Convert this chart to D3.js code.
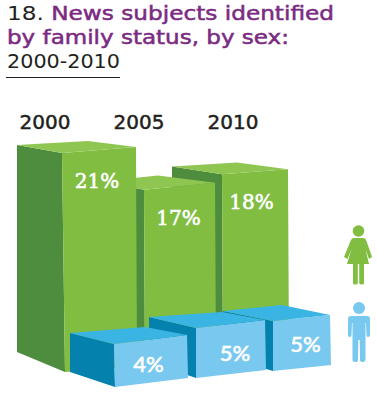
<!DOCTYPE html>
<html>
<head>
<meta charset="utf-8">
<script src="https://d3js.org/d3.v7.min.js"></script>
<style>
html, body { margin: 0; padding: 0; background: #fff; }
</style>
</head>
<body>
<script>
var years = ["2000", "2005", "2010"];
var women = [21, 17, 18];
var men = [4, 5, 5];

var svg = d3.select("body")
    .append("svg")
    .attr("width", 377)
    .attr("height", 398)
    .style("display", "block");

// height of a bar in px at the front corner
var h = d3.scaleLinear().domain([0, 21]).range([0, 219]);
var yearX = d3.scalePoint().domain(years).range([45, 233]);

// 3d footprints, one per year: front, right, left-back and back corners on the ground
var greenBox = [
    {fx: 65, fy: 372, rx: 137, ry: 366, lx: 17, ly: 352, bx: 88, by: 348, lean: 3, k: 1, ls: 0.945},
    {fx: 145, fy: 367, rx: 216, ry: 360, lx: 100, ly: 349, bx: 158, by: 343, lean: 1, k: 1, ls: 0.945},
    {fx: 223, fy: 362, rx: 289, ry: 357, lx: 172, ly: 344, bx: 237, by: 340, lean: 1, k: 1, ls: 0.945}
];
var blueBox = [
    {fx: 115, fy: 387, rx: 188, ry: 378, lx: 70, ly: 372, bx: 145, by: 366, lean: 1, k: 1.03, ls: 0.91},
    {fx: 196, fy: 378, rx: 266, ry: 370, lx: 149, ly: 362, bx: 222, by: 357, lean: 0, k: 0.96, ls: 0.9},
    {fx: 273, fy: 371, rx: 331, ry: 365, lx: 223, ly: 356, bx: 282, by: 350, lean: 0, k: 0.96, ls: 0.9}
];

var greenCol = {top: "#8fc652", side: "#4e8d3e", front: "#80bd41"};
var blueCol = {top: "#3ab5e3", side: "#0581ad", front: "#79c8f0"};

function poly(pts) {
    return "M" + pts.map(function (p) { return p.join(","); }).join("L") + "Z";
}

function drawBars(values, boxes, col) {
    // back to front so the nearer box covers the one behind
    d3.range(values.length - 1, -1, -1).forEach(function (i) {
        var b = boxes[i];
        var ht = h(values[i]) * b.k;
        var ft = [b.fx - b.lean, b.fy - ht];
        var rt = [b.rx - 1, b.ry - ht];
        var lt = [b.lx, b.ly - ht * b.ls];
        var bt = [b.bx, b.by - ht * b.ls];
        var g = svg.append("g");
        g.append("path").attr("d", poly([lt, ft, [b.fx, b.fy], [b.lx, b.ly]])).attr("fill", col.side);
        g.append("path").attr("d", poly([ft, rt, [b.rx, b.ry], [b.fx, b.fy]])).attr("fill", col.front);
        g.append("path").attr("d", poly([lt, bt, rt, ft])).attr("fill", col.top);
    });
}

drawBars(women, greenBox, greenCol);
drawBars(men, blueBox, blueCol);

// title
var title = svg.append("g").attr("font-family", "DejaVu Sans").attr("font-size", 19);
var line1 = title.append("text").attr("x", 7).attr("y", 20)
    .attr("textLength", 327).attr("lengthAdjust", "spacingAndGlyphs");
line1.append("tspan").attr("fill", "#231f20").text("18. ");
line1.append("tspan").attr("fill", "#7b2b82").attr("stroke", "#7b2b82").attr("stroke-width", 0.5)
    .text("News subjects identified");
title.append("text").attr("x", 7).attr("y", 44)
    .attr("textLength", 282).attr("lengthAdjust", "spacingAndGlyphs")
    .attr("fill", "#7b2b82").attr("stroke", "#7b2b82").attr("stroke-width", 0.5)
    .text("by family status, by sex:");
title.append("text").attr("x", 7).attr("y", 68)
    .attr("textLength", 113).attr("lengthAdjust", "spacingAndGlyphs")
    .attr("fill", "#231f20")
    .text("2000-2010");
svg.append("line").attr("x1", 6).attr("x2", 120).attr("y1", 77.5).attr("y2", 77.5)
    .attr("stroke", "#231f20").attr("stroke-width", 1);

// year labels
svg.selectAll(".year")
    .data(years)
    .enter()
    .append("text")
    .attr("class", "year")
    .attr("x", function (d) { return yearX(d); })
    .attr("y", 129)
    .attr("text-anchor", "middle")
    .attr("font-family", "DejaVu Sans")
    .attr("font-size", 20)
    .attr("fill", "#231f20")
    .attr("stroke", "#231f20")
    .attr("stroke-width", 0.5)
    .text(function (d) { return d; });

// value labels
var greenLabelPos = [[97, 188], [178.5, 225], [251.5, 209]];
var blueLabelPos = [[148.5, 372], [235, 361], [305.5, 352]];

svg.selectAll(".womenLabel")
    .data(women)
    .enter()
    .append("text")
    .attr("class", "womenLabel")
    .attr("x", function (d, i) { return greenLabelPos[i][0]; })
    .attr("y", function (d, i) { return greenLabelPos[i][1]; })
    .attr("text-anchor", "middle")
    .attr("font-family", "DejaVu Serif")
    .attr("font-size", 20)
    .attr("fill", "#fff")
    .attr("stroke", "#fff")
    .attr("stroke-width", 0.6)
    .text(function (d) { return d + "%"; });

svg.selectAll(".menLabel")
    .data(men)
    .enter()
    .append("text")
    .attr("class", "menLabel")
    .attr("x", function (d, i) { return blueLabelPos[i][0]; })
    .attr("y", function (d, i) { return blueLabelPos[i][1]; })
    .attr("text-anchor", "middle")
    .attr("font-family", "Lato")
    .attr("font-weight", 500)
    .attr("font-size", 22)
    .attr("fill", "#fff")
    .attr("stroke", "#fff")
    .attr("stroke-width", 0.5)
    .text(function (d) { return d + "%"; });

// legend figures
var woman = svg.append("g").attr("transform", "translate(358.5,0)").attr("fill", "#80bd41");
woman.append("circle").attr("cx", 0).attr("cy", 231).attr("r", 5.8);
woman.append("path").attr("d", "M-5,238 L5,238 Q7,238 8,241 L13.5,257 L10.5,259 L7,249 L10.5,264 L5.5,264 L5.5,283 Q5.5,284.5 3.5,284.5 Q0.7,284.5 0.7,283 L0.7,264 L-0.7,264 L-0.7,283 Q-0.7,284.5 -3.5,284.5 Q-5.5,284.5 -5.5,283 L-5.5,264 L-11.5,264 L-7,249 L-11,259 L-14.5,257 L-8,241 Q-7,238 -5,238 Z");

var man = svg.append("g").attr("transform", "translate(359,0)").attr("fill", "#79c8f0");
man.append("circle").attr("cx", 0).attr("cy", 308).attr("r", 6);
man.append("path").attr("d", "M-8,316 L8,316 Q11,316 11,319 L11,335 Q11,337 9,337 Q7.5,337 7.5,335 L7,323 L6.5,323 L6.5,360 Q6.5,362 4,362 Q1,362 1,360 L0.7,340 L-0.7,340 L-1,360 Q-1,362 -4,362 Q-6.5,362 -6.5,360 L-6.5,323 L-7,323 L-7.5,335 Q-7.5,337 -9,337 Q-11,337 -11,335 L-11,319 Q-11,316 -8,316 Z");
</script>
</body>
</html>
